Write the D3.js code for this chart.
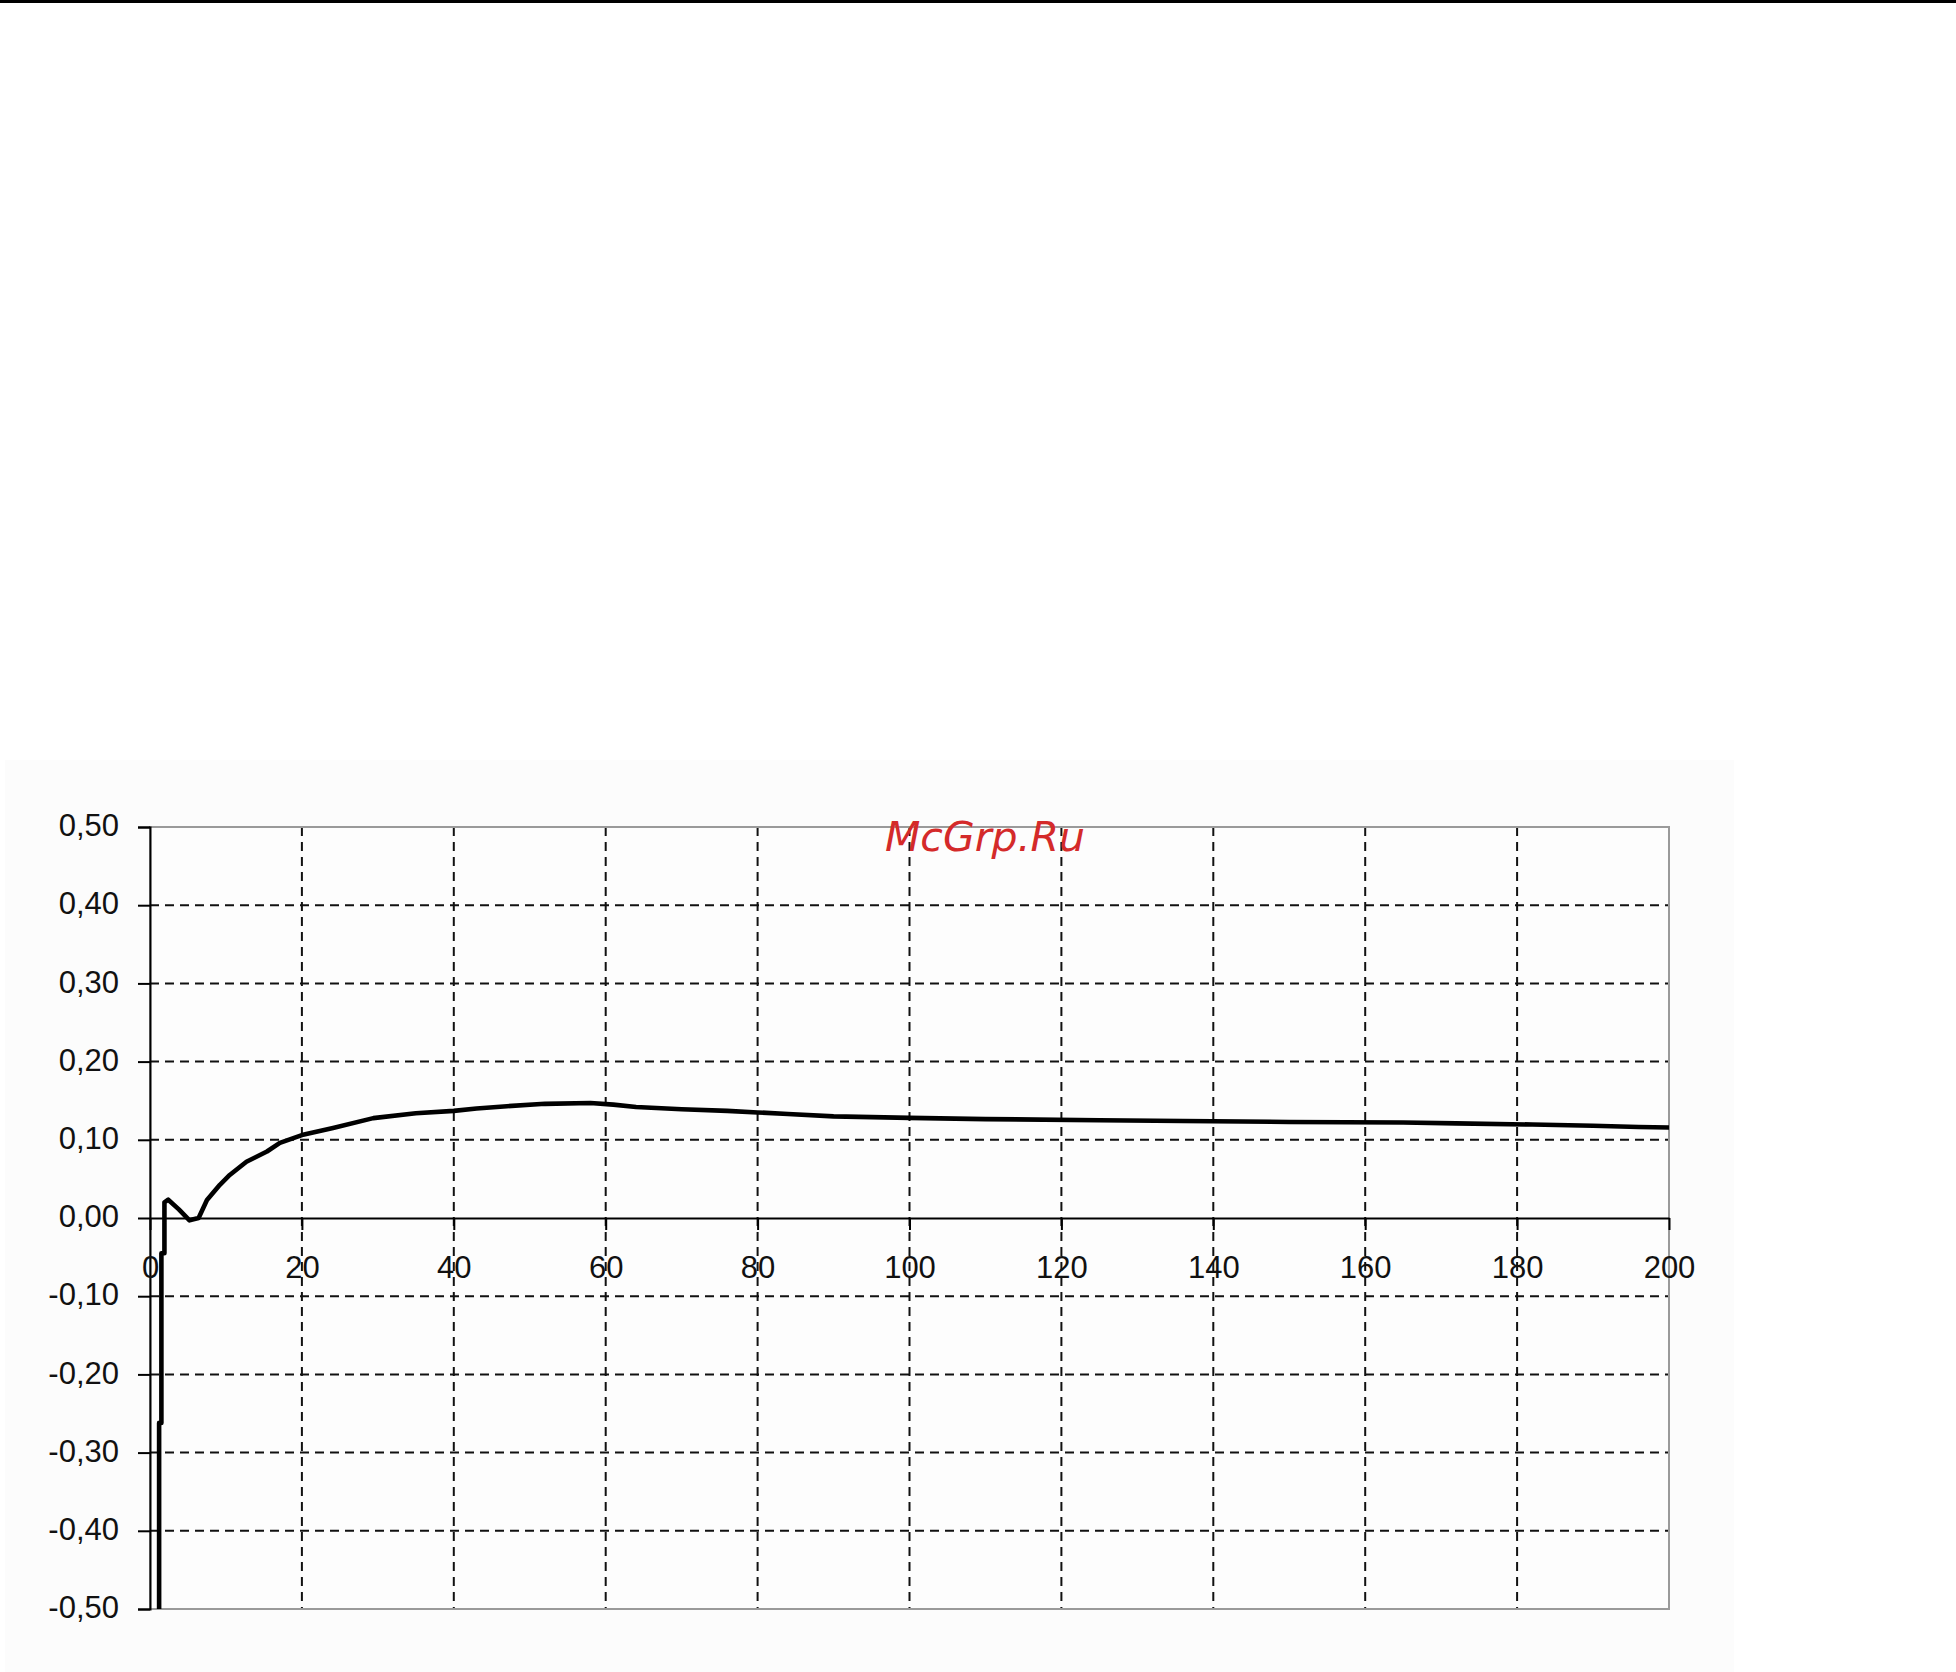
<!DOCTYPE html>
<html>
<head>
<meta charset="utf-8">
<script src="https://cdn.jsdelivr.net/npm/d3@7"></script>
<style>
  html, body { margin: 0; padding: 0; background: #ffffff; }
  svg { display: block; }
</style>
</head>
<body>
<svg id="chart" width="1956" height="1672"></svg>
<script>
// ---- data ----
const xValues = [1.2, 1.2, 1.5, 1.5, 1.9, 1.9, 2.4, 3.8, 5.2, 6.4, 7.5, 9.2, 10.5, 12.7, 15.4, 17.1, 20, 24.1, 29.4, 35, 40, 43, 47, 52, 58, 61, 64, 70, 76, 80, 84, 90, 100, 110, 125, 136, 150, 165, 172, 182, 190, 196, 200];
const yValues = [-0.56, -0.262, -0.262, -0.045, -0.045, 0.02, 0.0234, 0.011, -0.003, 0.0, 0.023, 0.0425, 0.055, 0.072, 0.085, 0.096, 0.106, 0.115, 0.1277, 0.134, 0.137, 0.140, 0.143, 0.146, 0.147, 0.145, 0.142, 0.139, 0.137, 0.135, 0.133, 0.130, 0.128, 0.1265, 0.125, 0.124, 0.1228, 0.1222, 0.121, 0.1195, 0.118, 0.1163, 0.1158];
const xTicks = [0, 20, 40, 60, 80, 100, 120, 140, 160, 180, 200];
const yTicks = [-0.5, -0.4, -0.3, -0.2, -0.1, 0, 0.1, 0.2, 0.3, 0.4, 0.5];
const watermark = "McGrp.Ru";

// ---- layout ----
const svg = d3.select("#chart");
const L = 150, R = 1669, T = 827, B = 1609;

const x = d3.scaleLinear().domain([0, 200]).range([L, R]);
const y = d3.scaleLinear().domain([-0.5, 0.5]).range([B, T]);

const loc = d3.formatLocale({decimal: ",", thousands: " ", grouping: [3], currency: ["", ""], minus: "-"});
const fmtY = loc.format(".2f");

// page decorations
svg.append("rect").attr("x", 0).attr("y", 0).attr("width", 1956).attr("height", 3).attr("fill", "#000");
svg.append("rect").attr("x", 5).attr("y", 760).attr("width", 1729).attr("height", 912).attr("fill", "#fcfcfc");
svg.append("rect").attr("x", L).attr("y", T).attr("width", R - L).attr("height", B - T).attr("fill", "#fdfdfd");

// grid
const grid = svg.append("g").attr("stroke", "#111").attr("stroke-width", 2).attr("stroke-dasharray", "9,6");
grid.selectAll("line.h").data(yTicks.filter(d => d !== 0 && Math.abs(d) !== 0.5)).join("line")
  .attr("class", "h").attr("x1", L).attr("x2", R).attr("y1", d => y(d)).attr("y2", d => y(d));
grid.selectAll("line.v").data(xTicks.filter(d => d !== 0 && d !== 200)).join("line")
  .attr("class", "v").attr("x1", d => x(d)).attr("x2", d => x(d)).attr("y1", T).attr("y2", B);

// border (grey)
svg.append("rect").attr("x", L).attr("y", T).attr("width", R - L).attr("height", B - T)
  .attr("fill", "none").attr("stroke", "#9a9a9a").attr("stroke-width", 2);

// y axis
const yAxis = svg.append("g").attr("transform", `translate(${L},0)`)
  .call(d3.axisLeft(y).tickValues(yTicks).tickFormat(fmtY).tickSize(12).tickPadding(19));
yAxis.select(".domain").attr("stroke", "#000").attr("stroke-width", 2);
yAxis.selectAll(".tick line").attr("stroke", "#000").attr("stroke-width", 2);
yAxis.selectAll(".tick text").attr("font-family", "'Liberation Sans', Arial, sans-serif")
  .attr("font-size", 31).attr("fill", "#111").attr("dy", "0.28em");

// x axis at zero line
const xAxis = svg.append("g").attr("transform", `translate(0,${y(0)})`)
  .call(d3.axisBottom(x).tickValues(xTicks).tickFormat(d3.format("d")).tickSize(12).tickSizeOuter(0));
xAxis.select(".domain").attr("stroke", "#000").attr("stroke-width", 2);
xAxis.selectAll(".tick line").attr("stroke", "#000").attr("stroke-width", 2);
xAxis.selectAll(".tick text").attr("font-family", "'Liberation Sans', Arial, sans-serif")
  .attr("font-size", 31).attr("fill", "#111").attr("y", 60).attr("dy", 0);

// series
svg.append("clipPath").attr("id", "clip").append("rect")
  .attr("x", L).attr("y", T).attr("width", R - L).attr("height", B - T);
const pts = xValues.map((d, i) => [d, yValues[i]]);
svg.append("path").datum(pts)
  .attr("clip-path", "url(#clip)")
  .attr("fill", "none").attr("stroke", "#000").attr("stroke-width", 4.6)
  .attr("stroke-linejoin", "round")
  .attr("d", d3.line().x(d => x(d[0])).y(d => y(d[1])));

// watermark
svg.append("text").attr("x", 885).attr("y", 851)
  .attr("font-family", "'DejaVu Sans', sans-serif").attr("font-style", "italic")
  .attr("font-size", 41).attr("fill", "#d42a2a").text(watermark);
</script>
</body>
</html>
